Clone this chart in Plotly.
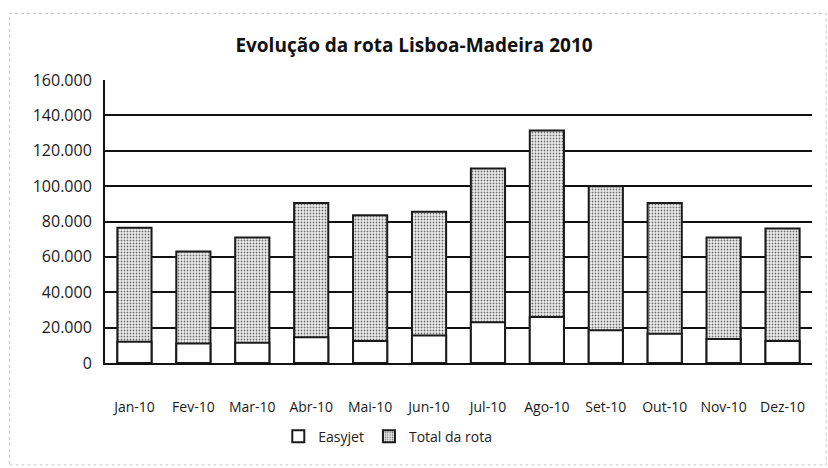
import plotly.graph_objects as go

# Monthly passengers on the Lisbon–Madeira route, 2010
months = ["Jan-10", "Fev-10", "Mar-10", "Abr-10", "Mai-10", "Jun-10",
          "Jul-10", "Ago-10", "Set-10", "Out-10", "Nov-10", "Dez-10"]
total_rota = [76500, 63000, 71000, 90500, 83500, 85500,
              110000, 131500, 100000, 90500, 71000, 76000]
easyjet = [12000, 11000, 11500, 14500, 12500, 15500,
           23000, 26000, 18500, 16500, 13500, 12500]

y_ticks = [0, 20000, 40000, 60000, 80000, 100000, 120000, 140000, 160000]
y_tick_text = ["0", "20.000", "40.000", "60.000", "80.000", "100.000",
               "120.000", "140.000", "160.000"]

fig = go.Figure()

# Route total drawn first with a stippled fill, Easyjet share overlaid in white
fig.add_trace(go.Bar(
    x=months, y=total_rota, name="Total da rota",
    marker=dict(
        color="white",
        line=dict(color="#1a1a1a", width=2),
        pattern=dict(shape=".", fgcolor="#6e6e6e", bgcolor="#f0f0f0",
                     size=3, solidity=0.3, fillmode="replace"),
    ),
))
fig.add_trace(go.Bar(
    x=months, y=easyjet, name="Easyjet",
    marker=dict(color="white", line=dict(color="#1a1a1a", width=2)),
))

fig.update_layout(
    width=828, height=468,
    barmode="overlay", bargap=0.42,
    paper_bgcolor="white", plot_bgcolor="white",
    margin=dict(l=105, r=16, t=80, b=105),
    font=dict(family="Open Sans, sans-serif", color="#1a1a1a"),
    title=dict(text="<b>Evolução da rota Lisboa-Madeira 2010</b>",
               x=0.5, xanchor="center", y=1 - 45 / 468, yanchor="middle",
               font=dict(size=19, color="#111111")),
    showlegend=True,
    legend=dict(orientation="h", x=0.4, xanchor="center", y=-0.26,
                yanchor="middle", traceorder="reversed",
                font=dict(size=14, color="#222222"),
                itemwidth=30, bgcolor="rgba(0,0,0,0)"),
    shapes=[dict(type="rect", xref="paper", yref="paper",
                 x0=-0.135, x1=1.02, y0=-0.36, y1=1.235,
                 line=dict(color="#c8c8c8", width=1, dash="dot"))],
)

fig.update_yaxes(
    range=[0, 160000], tickvals=y_ticks, ticktext=y_tick_text,
    showgrid=True, gridcolor="#111111", gridwidth=2,
    zeroline=False, showline=True, linecolor="#111111", linewidth=2,
    ticks="", ticklabelstandoff=8,
    tickfont=dict(size=16, color="#1a1a1a"),
)
fig.update_xaxes(
    showline=True, linecolor="#111111", linewidth=2, mirror=False,
    ticks="", ticklabelstandoff=30,
    tickfont=dict(size=14, color="#1a1a1a"),
)

fig.write_html("out.html")
